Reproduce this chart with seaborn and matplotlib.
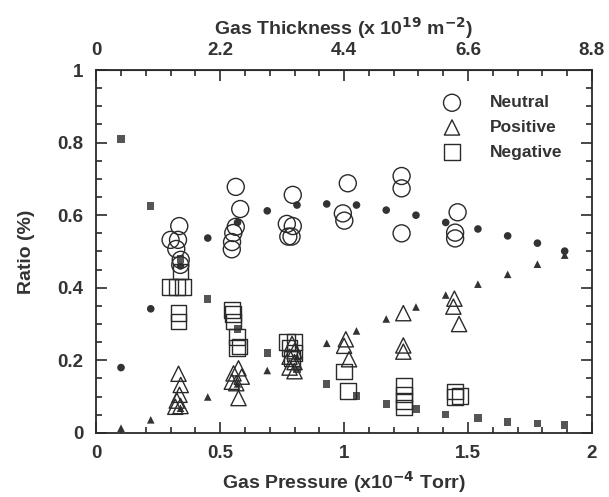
import numpy as np
import pandas as pd
import seaborn as sns
import matplotlib.pyplot as plt

# calculated curves (small filled markers)
calc_x = [0.10, 0.22, 0.34, 0.45, 0.57, 0.69, 0.81, 0.93, 1.05, 1.17, 1.29, 1.41, 1.54, 1.66, 1.78, 1.89]
calc_neutral = [0.18, 0.342, 0.46, 0.537, 0.58, 0.612, 0.628, 0.631, 0.628, 0.614, 0.60, 0.58, 0.562, 0.543, 0.523, 0.501]
calc_positive = [0.013, 0.036, 0.068, 0.099, 0.135, 0.172, 0.21, 0.247, 0.281, 0.314, 0.347, 0.38, 0.41, 0.437, 0.465, 0.49]
calc_negative = [0.81, 0.625, 0.479, 0.369, 0.286, 0.22, 0.174, 0.135, 0.102, 0.08, 0.066, 0.05, 0.041, 0.03, 0.025, 0.022]

# measured (open markers)
neu_x = [0.335, 0.30, 0.33, 0.323, 0.341, 0.339,
         0.563, 0.581, 0.563, 0.553, 0.548, 0.547,
         0.793, 0.769, 0.793, 0.775, 0.788,
         1.015, 0.995, 1.001,
         1.232, 1.232, 1.232,
         1.458, 1.448, 1.448]
neu_y = [0.570, 0.532, 0.532, 0.507, 0.477, 0.463,
         0.678, 0.617, 0.568, 0.551, 0.526, 0.506,
         0.656, 0.576, 0.570, 0.541, 0.541,
         0.688, 0.605, 0.585,
         0.708, 0.674, 0.55,
         0.608, 0.552, 0.536]

pos_x = [0.332, 0.341, 0.336, 0.325, 0.319, 0.34,
         0.574, 0.554, 0.587, 0.547, 0.565, 0.574,
         0.79, 0.80, 0.78, 0.80, 0.78, 0.80,
         1.007, 1.0, 1.02,
         1.239, 1.239, 1.239,
         1.445, 1.441, 1.464]
pos_y = [0.163, 0.132, 0.105, 0.089, 0.072, 0.074,
         0.178, 0.164, 0.155, 0.141, 0.137, 0.096,
         0.245, 0.225, 0.21, 0.195, 0.18, 0.17,
         0.258, 0.24, 0.203,
         0.33, 0.241, 0.224,
         0.37, 0.348, 0.30]

negs_x = [0.34, 0.298, 0.325, 0.349, 0.332, 0.332,
          0.547, 0.552, 0.554, 0.567, 0.578, 0.567,
          0.77, 0.80, 0.78, 0.80, 0.79,
          1.001, 1.017,
          1.242, 1.242, 1.242, 1.242,
          1.448, 1.468, 1.448]
negs_y = [0.445, 0.401, 0.401, 0.401, 0.33, 0.307,
          0.339, 0.328, 0.307, 0.265, 0.238, 0.233,
          0.25, 0.25, 0.235, 0.22, 0.205,
          0.169, 0.116,
          0.129, 0.106, 0.088, 0.07,
          0.114, 0.102, 0.10]

thick_ticks = ["0", "2.2", "4.4", "6.6", "8.8"]

sns.set_style("ticks")
plt.rcParams["font.family"] = ["Liberation Sans", "DejaVu Sans"]
plt.rcParams["font.weight"] = "bold"

fig = plt.figure(figsize=(6.09, 4.97), dpi=100)
ax = fig.add_axes([0.158, 0.129, 0.814, 0.73])

ink = "#2a2a2a"
txt = "#333333"
sns.scatterplot(x=calc_x, y=calc_neutral, marker="o", s=30, color="#333333", edgecolor="none", ax=ax)
sns.scatterplot(x=calc_x, y=calc_positive, marker="^", s=30, color="#333333", edgecolor="none", ax=ax)
sns.scatterplot(x=calc_x, y=calc_negative, marker="s", s=28, color="#555555", edgecolor="none", ax=ax)

sns.scatterplot(x=neu_x, y=neu_y, marker="o", s=150, facecolor="none", edgecolor=ink, linewidth=1.0, ax=ax, label="Neutral")
sns.scatterplot(x=pos_x, y=pos_y, marker="^", s=120, facecolor="none", edgecolor=ink, linewidth=1.0, ax=ax, label="Positive")
sns.scatterplot(x=negs_x, y=negs_y, marker="s", s=130, facecolor="none", edgecolor=ink, linewidth=1.0, ax=ax, label="Negative")

ax.set_xlim(0, 2)
ax.set_ylim(0, 1)
ax.set_xticks([0, 0.5, 1, 1.5, 2])
ax.set_xticklabels(["0", "0.5", "1", "1.5", "2"])
ax.set_yticks([0, 0.2, 0.4, 0.6, 0.8, 1])
ax.set_yticklabels(["0", "0.2", "0.4", "0.6", "0.8", "1"])
ax.set_xticks(np.arange(0, 2.01, 0.1), minor=True)
ax.set_yticks(np.arange(0, 1.001, 0.05), minor=True)
ax.tick_params(which="both", direction="in", top=True, right=True, colors=ink, labelsize=13.5, width=1.2)
ax.tick_params(which="major", length=8)
ax.tick_params(which="minor", length=4)
ax.tick_params(axis="x", pad=9)
ax.tick_params(axis="y", pad=9)
for lab in ax.get_xticklabels() + ax.get_yticklabels():
    lab.set_color(txt)
for sp in ax.spines.values():
    sp.set_linewidth(1.3)
    sp.set_color(ink)

ax.set_xlabel("Gas Pressure (x10$^{-4}$ Torr)", fontsize=14, fontweight="bold", color=txt, labelpad=5)
ax.set_ylabel("Ratio (%)", fontsize=14, fontweight="bold", color=txt, labelpad=16)

top = ax.secondary_xaxis("top")
top.set_xticks([0, 0.5, 1, 1.5, 2])
top.set_xticklabels(thick_ticks)
top.tick_params(direction="in", length=0, labelsize=13.5, colors=txt, pad=8)
top.set_xlabel("Gas Thickness (x 10$^{19}$ m$^{-2}$)", fontsize=14, fontweight="bold", color=txt, labelpad=5)

leg = ax.legend(loc="upper right", frameon=False, fontsize=12.5, handletextpad=1.2, labelspacing=0.55,
                borderaxespad=0.0, bbox_to_anchor=(0.955, 0.95))
for t in leg.get_texts():
    t.set_color(txt)
    t.set_fontweight("bold")

fig.savefig("out.png", dpi=100)
